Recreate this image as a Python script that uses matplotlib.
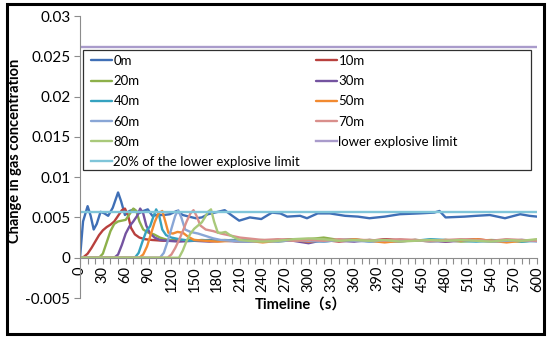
import matplotlib.pyplot as plt
from matplotlib.patches import Rectangle

# Series data (time in s, concentration change)
TAIL_T = [220, 240, 260, 280, 300, 320, 340, 360, 380, 400, 420, 440, 460, 480, 500, 520, 540, 560, 580, 600]

t_0m = [0, 4, 10, 14, 18, 22, 27, 32, 37, 43, 50, 54, 59, 65, 71, 77, 83, 89, 95, 102, 110, 118, 127, 135,
        143, 152, 160, 168, 177, 190, 200, 209, 223, 238, 252, 263, 272, 289, 298, 312, 328, 348, 365, 380,
        400, 420, 445, 465, 472, 480, 505, 520, 538, 558, 578, 590, 600]
c_0m = [0, 0.0045, 0.0064, 0.0052, 0.0035, 0.0042, 0.0057, 0.0055, 0.0052, 0.0062, 0.0081, 0.0070, 0.0053,
        0.0058, 0.0060, 0.0055, 0.0058, 0.0060, 0.0052, 0.0053, 0.0053, 0.0054, 0.0058, 0.0053, 0.0051, 0.0049,
        0.0050, 0.0054, 0.0056, 0.0059, 0.0052, 0.0046, 0.0050, 0.0048, 0.0056, 0.0055, 0.0051, 0.0052, 0.0049,
        0.0055, 0.0055, 0.0052, 0.0051, 0.0049, 0.0051, 0.0054, 0.0055, 0.0056, 0.0058, 0.0050, 0.0051, 0.0052,
        0.0053, 0.0049, 0.0054, 0.0052, 0.0051]

t_10m = [0, 5, 10, 15, 20, 25, 30, 35, 40, 45, 50, 55, 59, 63, 67, 72, 78, 85, 95, 110, 130, 150, 170, 190, 210]
c_10m = [0, 0.0001, 0.0005, 0.0012, 0.0020, 0.0028, 0.0034, 0.0038, 0.0041, 0.0045, 0.0052, 0.0059, 0.0061,
         0.0053, 0.0037, 0.0029, 0.0025, 0.0023, 0.0022, 0.0021, 0.0022, 0.0021, 0.0022, 0.0021, 0.0022]
tail_10m = [0.0022, 0.0021, 0.0022, 0.0023, 0.0021, 0.0022, 0.0020, 0.0022, 0.0021, 0.0023,
            0.0022, 0.0021, 0.0022, 0.0020, 0.0022, 0.0023, 0.0021, 0.0022, 0.0021, 0.0022]

t_20m = [0, 25, 30, 35, 40, 45, 50, 55, 60, 65, 70, 74, 78, 83, 90, 97, 105, 115, 130, 150, 170, 190, 210]
c_20m = [0, 0, 0.0005, 0.0019, 0.0033, 0.0042, 0.0045, 0.0046, 0.0047, 0.0054, 0.0061, 0.0058, 0.0045,
         0.0035, 0.0031, 0.0029, 0.0025, 0.0022, 0.0021, 0.0022, 0.0021, 0.0022, 0.0021]
tail_20m = [0.0021, 0.0022, 0.0020, 0.0022, 0.0023, 0.0025, 0.0022, 0.0021, 0.0022, 0.0020,
            0.0021, 0.0022, 0.0021, 0.0022, 0.0020, 0.0021, 0.0022, 0.0021, 0.0020, 0.0022]

t_30m = [0, 45, 50, 55, 60, 65, 70, 75, 79, 83, 87, 92, 98, 105, 115, 130, 150, 170, 190, 210]
c_30m = [0, 0, 0.0004, 0.0016, 0.0030, 0.0039, 0.0045, 0.0052, 0.0061, 0.0055, 0.0040, 0.0030, 0.0025,
         0.0022, 0.0021, 0.0020, 0.0021, 0.0020, 0.0021, 0.0020]
tail_30m = [0.0020, 0.0021, 0.0022, 0.0021, 0.0018, 0.0022, 0.0021, 0.0020, 0.0022, 0.0021,
            0.0020, 0.0022, 0.0021, 0.0020, 0.0021, 0.0022, 0.0020, 0.0021, 0.0022, 0.0021]

t_40m = [0, 72, 77, 82, 87, 92, 96, 100, 104, 108, 113, 120, 130, 145, 160, 180, 200, 210]
c_40m = [0, 0, 0.0006, 0.0020, 0.0033, 0.0039, 0.0050, 0.0060, 0.0052, 0.0035, 0.0028, 0.0025, 0.0023,
         0.0021, 0.0022, 0.0021, 0.0022, 0.0021]
tail_40m = [0.0022, 0.0020, 0.0021, 0.0022, 0.0021, 0.0020, 0.0022, 0.0023, 0.0020, 0.0021,
            0.0022, 0.0021, 0.0023, 0.0022, 0.0021, 0.0020, 0.0021, 0.0022, 0.0020, 0.0021]

t_50m = [0, 78, 83, 88, 93, 98, 103, 108, 112, 116, 122, 128, 135, 142, 150, 165, 180, 200, 210]
c_50m = [0, 0, 0.0004, 0.0014, 0.0029, 0.0044, 0.0055, 0.0058, 0.0045, 0.0031, 0.0030, 0.0032, 0.0031,
         0.0026, 0.0022, 0.0021, 0.0020, 0.0021, 0.0020]
tail_50m = [0.0021, 0.0019, 0.0021, 0.0022, 0.0020, 0.0022, 0.0021, 0.0023, 0.0021, 0.0019,
            0.0021, 0.0022, 0.0020, 0.0022, 0.0021, 0.0023, 0.0021, 0.0019, 0.0021, 0.0022]

t_60m = [0, 105, 110, 115, 120, 125, 129, 133, 138, 145, 155, 165, 175, 185, 200, 210]
c_60m = [0, 0, 0.0006, 0.0020, 0.0036, 0.0052, 0.0059, 0.0050, 0.0035, 0.0032, 0.0030, 0.0027, 0.0024,
         0.0022, 0.0021, 0.0020]
tail_60m = [0.0020, 0.0021, 0.0020, 0.0022, 0.0021, 0.0020, 0.0022, 0.0021, 0.0020, 0.0022,
            0.0021, 0.0022, 0.0020, 0.0021, 0.0022, 0.0021, 0.0020, 0.0021, 0.0022, 0.0020]

t_70m = [0, 115, 120, 125, 130, 135, 140, 145, 149, 153, 158, 165, 175, 185, 200, 210]
c_70m = [0, 0, 0.0004, 0.0012, 0.0022, 0.0033, 0.0045, 0.0055, 0.0059, 0.0052, 0.0040, 0.0035, 0.0033,
         0.0030, 0.0027, 0.0025]
tail_70m = [0.0024, 0.0022, 0.0023, 0.0021, 0.0022, 0.0021, 0.0023, 0.0022, 0.0022, 0.0021,
            0.0023, 0.0022, 0.0021, 0.0022, 0.0023, 0.0022, 0.0021, 0.0023, 0.0022, 0.0021]

t_80m = [0, 130, 135, 140, 145, 150, 155, 160, 164, 168, 172, 176, 181, 186, 191, 197, 205, 210]
c_80m = [0, 0, 0.0009, 0.0021, 0.0030, 0.0036, 0.0040, 0.0044, 0.0050, 0.0057, 0.0060, 0.0045, 0.0031,
         0.0031, 0.0032, 0.0028, 0.0024, 0.0022]
tail_80m = [0.0021, 0.0020, 0.0021, 0.0023, 0.0024, 0.0023, 0.0021, 0.0022, 0.0021, 0.0022,
            0.0020, 0.0021, 0.0022, 0.0021, 0.0022, 0.0021, 0.0020, 0.0022, 0.0021, 0.0023]

LEL = 0.0262
LEL_20 = 0.0057
LIMIT_T = [0, 600]

SERIES = [
    ("0m", t_0m, c_0m, [], "#3F6FB6"),
    ("10m", t_10m, c_10m, tail_10m, "#B8403D"),
    ("20m", t_20m, c_20m, tail_20m, "#8DB04A"),
    ("30m", t_30m, c_30m, tail_30m, "#7453A0"),
    ("40m", t_40m, c_40m, tail_40m, "#35A2C0"),
    ("50m", t_50m, c_50m, tail_50m, "#F28A30"),
    ("60m", t_60m, c_60m, tail_60m, "#89A6D6"),
    ("70m", t_70m, c_70m, tail_70m, "#D98F8C"),
    ("80m", t_80m, c_80m, tail_80m, "#A9C97A"),
]

plt.rcParams['font.family'] = ['Lato', 'Noto Sans CJK SC', 'DejaVu Sans']

fig = plt.figure(figsize=(5.5, 3.41), dpi=100)
ax = fig.add_axes([80 / 550, 1 - 298 / 341, 457 / 550, 282 / 341])
ax.patch.set_visible(False)

handles = {}
for name, t, c, tail, color in SERIES:
    tt = t + (TAIL_T if tail else [])
    cc = c + tail
    line, = ax.plot(tt, cc, color=color, lw=1.7, solid_capstyle='round', label=name)
    handles[name] = line

line, = ax.plot(LIMIT_T, [LEL, LEL], color="#A99BCB", lw=1.7, label="lower explosive limit")
handles["lower explosive limit"] = line
line, = ax.plot(LIMIT_T, [LEL_20, LEL_20], color="#7FC5D9", lw=1.7,
                label="20% of the lower explosive limit")
handles["20% of the lower explosive limit"] = line

ax.set_xlim(0, 600)
ax.set_ylim(-0.005, 0.03)

axis_gray = "#8C8C8C"
for side in ("top", "right"):
    ax.spines[side].set_visible(False)
ax.spines["bottom"].set_position(("data", 0))
ax.spines["bottom"].set_color(axis_gray)
ax.spines["left"].set_color(axis_gray)

xt = list(range(0, 601, 10))
ax.set_xticks(xt)
ax.set_xticklabels([str(v) if v % 30 == 0 else "" for v in xt], rotation=90, fontsize=10.5)
yt = [-0.005, 0, 0.005, 0.01, 0.015, 0.02, 0.025, 0.03]
ax.set_yticks(yt)
ax.set_yticklabels(["-0.005", "0", "0.005", "0.01", "0.015", "0.02", "0.025", "0.03"], fontsize=11)
ax.tick_params(axis="both", color=axis_gray, length=4, width=0.8)
ax.tick_params(axis="x", pad=2)
ax.tick_params(axis="y", pad=3)

ax.set_ylabel("Change in gas concentration", fontsize=10.5, fontweight="bold")
ax.yaxis.set_label_coords((22 - 80) / 457, 0.52)
fig.text(301 / 550, 1 - 305 / 341, "Timeline（s）", fontsize=10.5, fontweight="bold",
         ha="center", va="center")

# Legend: two columns laid out like the original, inside one plain box
col1 = ["0m", "20m", "40m", "60m", "80m", "20% of the lower explosive limit"]
col2 = ["10m", "30m", "50m", "70m", "lower explosive limit"]
leg_kw = dict(loc="upper left", fontsize=9.5, handlelength=1.6, handletextpad=0.1,
              labelspacing=0.62, borderaxespad=0, borderpad=0, frameon=False)
fig.legend([handles[k] for k in col1], col1, bbox_to_anchor=(91 / 550, 1 - 55 / 341), **leg_kw)
fig.legend([handles[k] for k in col2], col2, bbox_to_anchor=(316 / 550, 1 - 55 / 341), **leg_kw)
fig.patches.append(Rectangle((83 / 550, 1 - 170 / 341), 448 / 550, 120 / 341, facecolor="white",
                             edgecolor="#303030", lw=0.9, transform=fig.transFigure, figure=fig,
                             zorder=0))

# Outer frame around the whole chart
fig.patches.append(Rectangle((7 / 550, 1 - 334 / 341), 537 / 550, 330 / 341, fill=False,
                             edgecolor="black", lw=2.2, transform=fig.transFigure, figure=fig))

plt.savefig("out.png", dpi=100)
plt.close()
